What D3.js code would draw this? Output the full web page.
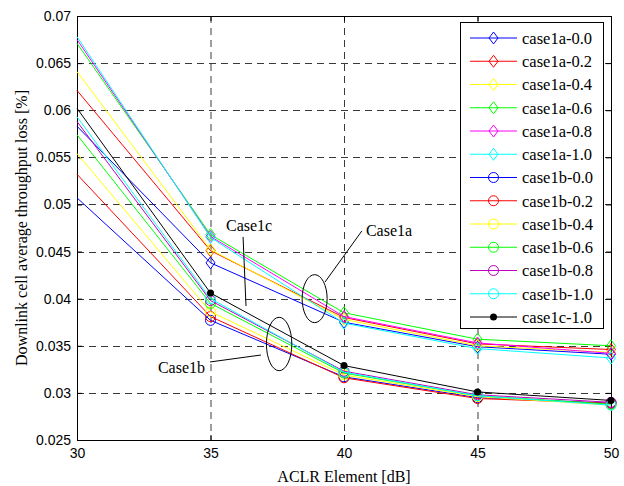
<!DOCTYPE html>
<html><head><meta charset="utf-8">
<script src="https://cdn.jsdelivr.net/npm/d3@7"></script>
<style>body{margin:0;background:#fff}svg{display:block}</style>
</head><body>
<svg id="chart" width="624" height="486"></svg>
<script>
const xValues = [30, 35, 40, 45, 50];
const xTicks = [30, 35, 40, 45, 50];
const yTicks = [0.025, 0.03, 0.035, 0.04, 0.045, 0.05, 0.055, 0.06, 0.065, 0.07];
const seriesNames = ["case1a-0.0","case1a-0.2","case1a-0.4","case1a-0.6","case1a-0.8","case1a-1.0",
  "case1b-0.0","case1b-0.2","case1b-0.4","case1b-0.6","case1b-0.8","case1b-1.0","case1c-1.0"];
const seriesColors = ["#0000ff","#ff0000","#ffff00","#00ff00","#ff00ff","#00ffff",
  "#0000ff","#ff0000","#ffff00","#00ff00","#bf00bf","#00ffff","#000000"];
const seriesMarkers = ["diamond","diamond","diamond","diamond","diamond","diamond",
  "circle","circle","circle","circle","circle","circle","dot"];
const case1a_00 = [0.0583, 0.0438, 0.0375, 0.0349, 0.0341];
const case1a_02 = [0.0621, 0.0451, 0.0380, 0.0352, 0.0346];
const case1a_04 = [0.0641, 0.0452, 0.0378, 0.0350, 0.0343];
const case1a_06 = [0.0671, 0.0468, 0.0385, 0.0357, 0.0350];
const case1a_08 = [0.0675, 0.0466, 0.0381, 0.0353, 0.0342];
const case1a_10 = [0.0678, 0.0465, 0.0374, 0.0347, 0.0337];
const case1b_00 = [0.0507, 0.0377, 0.0317, 0.0295, 0.0289];
const case1b_02 = [0.0532, 0.0381, 0.0316, 0.0294, 0.0289];
const case1b_04 = [0.0554, 0.0386, 0.0319, 0.0296, 0.0287];
const case1b_06 = [0.0574, 0.0395, 0.0321, 0.0297, 0.0288];
const case1b_08 = [0.0588, 0.0398, 0.0323, 0.0298, 0.0290];
const case1b_10 = [0.0593, 0.0400, 0.0322, 0.0297, 0.0287];
const case1c_10 = [0.0602, 0.0406, 0.0329, 0.0301, 0.0292];
const seriesValues = [case1a_00, case1a_02, case1a_04, case1a_06, case1a_08, case1a_10,
  case1b_00, case1b_02, case1b_04, case1b_06, case1b_08, case1b_10, case1c_10];

const L = 77, R = 611, T = 16, B = 440;
const svg = d3.select("#chart");
const x = d3.scaleLinear().domain([30, 50]).range([L, R]);
const y = d3.scaleLinear().domain([0.025, 0.07]).range([B, T]);
const serif = "'Liberation Serif','Times New Roman',serif";
const sans = "'Liberation Sans',Arial,sans-serif";

// grid
const grid = svg.append("g").attr("stroke", "#3a3a3a").attr("stroke-width", 1).attr("stroke-dasharray", "7,5");
grid.selectAll(".gx").data(xTicks.slice(1, -1)).join("line")
  .attr("x1", d => x(d)+0.5).attr("x2", d => x(d)+0.5).attr("y1", T).attr("y2", B);
grid.selectAll(".gy").data(yTicks.slice(1, -1)).join("line")
  .attr("y1", d => Math.round(y(d))+0.5).attr("y2", d => Math.round(y(d))+0.5).attr("x1", L).attr("x2", R);

// axes
const fmt = v => String(+v.toFixed(3));
const xAxis = svg.append("g").attr("transform", `translate(0,${B})`)
  .call(d3.axisBottom(x).tickValues(xTicks).tickSizeInner(-5).tickSizeOuter(0).tickPadding(8));
const yAxis = svg.append("g").attr("transform", `translate(${L},0)`)
  .call(d3.axisLeft(y).tickValues(yTicks).tickFormat(fmt).tickSizeInner(-5).tickSizeOuter(0).tickPadding(6));
const xTop = svg.append("g").attr("transform", `translate(0,${T})`)
  .call(d3.axisTop(x).tickValues(xTicks).tickSizeInner(-5).tickSizeOuter(0).tickFormat(""));
const yRight = svg.append("g").attr("transform", `translate(${R},0)`)
  .call(d3.axisRight(y).tickValues(yTicks).tickSizeInner(-5).tickSizeOuter(0).tickFormat(""));
[xAxis, yAxis, xTop, yRight].forEach(g => {
  g.selectAll("path").attr("stroke", "#000");
  g.selectAll("line").attr("stroke", "#000");
  g.selectAll("text").attr("font-family", sans).attr("font-size", 14).attr("fill", "#000");
});

// series
const line = d3.line().x((d, i) => x(xValues[i])).y(d => y(d));
function drawMarker(g, type, color, cx, cy) {
  if (type === "diamond") {
    g.append("path").attr("d", `M${cx},${cy-6}L${cx+4.5},${cy}L${cx},${cy+6}L${cx-4.5},${cy}Z`)
      .attr("fill", "none").attr("stroke", color).attr("stroke-width", 1);
  } else if (type === "circle") {
    g.append("circle").attr("cx", cx).attr("cy", cy).attr("r", 5)
      .attr("fill", "none").attr("stroke", color).attr("stroke-width", 1);
  } else {
    g.append("circle").attr("cx", cx).attr("cy", cy).attr("r", 3.5).attr("fill", color);
  }
}
seriesValues.forEach((vals, si) => {
  const g = svg.append("g");
  g.append("path").attr("d", line(vals)).attr("fill", "none")
    .attr("stroke", seriesColors[si]).attr("stroke-width", 1);
  vals.forEach((v, i) => { if (i > 0) drawMarker(g, seriesMarkers[si], seriesColors[si], x(xValues[i]), y(v)); });
});

// annotations (data coordinates)
const ann = svg.append("g").attr("stroke", "#000").attr("fill", "none").attr("stroke-width", 1);
ann.append("ellipse").attr("cx", x(38.9)).attr("cy", y(0.0400)).attr("rx", 12.5).attr("ry", 24);
ann.append("line").attr("x1", x(39.29)).attr("y1", y(0.04177)).attr("x2", x(40.67)).attr("y2", y(0.04719));
ann.append("line").attr("x1", x(36.22)).attr("y1", y(0.04655)).attr("x2", x(36.33)).attr("y2", y(0.03922));
ann.append("ellipse").attr("cx", x(37.57)).attr("cy", y(0.03519)).attr("rx", 12.7).attr("ry", 26.7);
ann.append("line").attr("x1", x(34.98)).attr("y1", y(0.03328)).attr("x2", x(36.89)).attr("y2", y(0.03402));
const annText = [
  {t: "Case1a", x: 40.82, y: 0.04666},
  {t: "Case1c", x: 35.58, y: 0.04719},
  {t: "Case1b", x: 33.03, y: 0.03211}
];
svg.selectAll(".ann").data(annText).join("text")
  .attr("x", d => x(d.x)).attr("y", d => y(d.y)).text(d => d.t)
  .attr("font-family", serif).attr("font-size", 16).attr("fill", "#000");

// axis titles
svg.append("text").attr("x", (L+R)/2).attr("y", 482).attr("text-anchor", "middle")
  .attr("font-family", serif).attr("font-size", 16).text("ACLR Element [dB]");
svg.append("text").attr("transform", `translate(27,${(T+B)/2}) rotate(-90)`).attr("text-anchor", "middle")
  .attr("font-family", serif).attr("font-size", 16).text("Downlink cell average throughput loss [%]");

// legend
const lg = svg.append("g");
lg.append("rect").attr("x", 460.5).attr("y", 22.5).attr("width", 143).attr("height", 306)
  .attr("fill", "#fff").attr("stroke", "#000");
seriesNames.forEach((name, i) => {
  const ry = 38 + i * 23.25;
  lg.append("line").attr("x1", 470).attr("x2", 517).attr("y1", ry).attr("y2", ry)
    .attr("stroke", seriesColors[i]).attr("stroke-width", 1);
  drawMarker(lg, seriesMarkers[i], seriesColors[i], 493.5, ry);
  lg.append("text").attr("x", 522).attr("y", ry).attr("dy", "0.35em").text(name)
    .attr("font-family", serif).attr("font-size", 16.5).attr("fill", "#000");
});
</script>
</body></html>
